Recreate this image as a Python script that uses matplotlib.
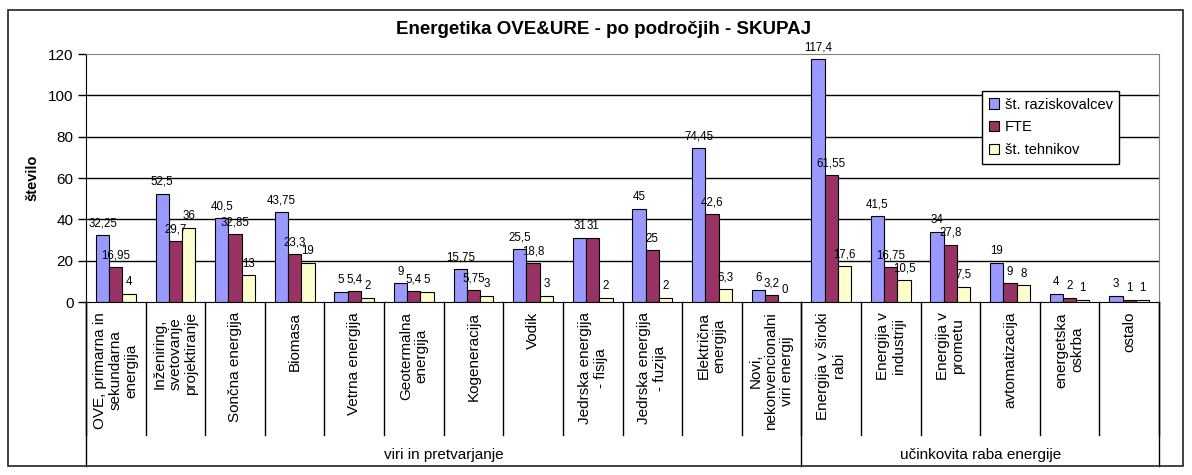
import matplotlib
matplotlib.use("Agg")
import matplotlib.pyplot as plt
import matplotlib.transforms as mtransforms
from matplotlib.patches import Rectangle, Patch
from matplotlib.lines import Line2D

plt.rcParams['font.family'] = ['Liberation Sans', 'DejaVu Sans']

categories = [
    "OVE, primarna in\nsekundarna\nenergija",
    "Inženiring,\nsvetovanje\nprojektiranje",
    "Sončna energija",
    "Biomasa",
    "Vetrna energija",
    "Geotermalna\nenergija",
    "Kogeneracija",
    "Vodik",
    "Jedrska energija\n- fisija",
    "Jedrska energija\n- fuzija",
    "Električna\nenergija",
    "Novi,\nnekonvencionalni\nviri energij",
    "Energija v široki\nrabi",
    "Energija v\nindustriji",
    "Energija v\nprometu",
    "avtomatizacija",
    "energetska\noskrba",
    "ostalo",
]
groups = ["viri in pretvarjanje", "učinkovita raba energije"]
group_sizes = [12, 6]

series_names = ["št. raziskovalcev", "FTE", "št. tehnikov"]
raziskovalci = [32.25, 52.5, 40.5, 43.75, 5, 9, 15.75, 25.5, 31, 45, 74.45, 6, 117.4, 41.5, 34, 19, 4, 3]
fte = [16.95, 29.7, 32.85, 23.3, 5.4, 5.4, 5.75, 18.8, 31, 25, 42.6, 3.2, 61.55, 16.75, 27.8, 9, 2, 1]
tehniki = [4, 36, 13, 19, 2, 5, 3, 3, 2, 2, 6.3, 0, 17.6, 10.5, 7.5, 8, 1, 1]
colors = ["#9999FF", "#993366", "#FFFFCC"]

W, H = 1192, 475
fig = plt.figure(figsize=(W / 100, H / 100), dpi=100)

# plot area in pixels
px_l, px_r, px_t, px_b = 86, 1159, 54, 302
ax = fig.add_axes([px_l / W, 1 - px_b / H, (px_r - px_l) / W, (px_b - px_t) / H])
axh = px_b - px_t

def ay(py):
    return (px_b - py) / axh

n = len(categories)
ax.set_xlim(-0.5, n - 0.5)
ax.set_ylim(0, 120)
ax.set_yticks(range(0, 121, 20))
ax.set_xticks([])
ax.tick_params(axis='y', labelsize=11, length=6, width=1, color='black', pad=3)

for y in range(20, 120, 20):
    ax.axhline(y, color='black', lw=1, zorder=1)

for s in ['top', 'right']:
    ax.spines[s].set_color('#808080')
ax.spines['left'].set_color('black')
ax.spines['bottom'].set_color('black')

bw = 1 / 4.5
data = [raziskovalci, fte, tehniki]
for k, (vals, c) in enumerate(zip(data, colors)):
    xs = [i + (k - 1) * bw for i in range(n)]
    ax.bar(xs, vals, width=bw, color=c, edgecolor='black', linewidth=0.8, zorder=2,
           label=series_names[k])
    for x, v in zip(xs, vals):
        lab = f"{v:g}".replace('.', ',')
        ax.annotate(lab, (x, v), xytext=(0, 4), textcoords='offset points',
                    ha='center', va='bottom', fontsize=8.3, clip_on=False, zorder=3)

trans = mtransforms.blended_transform_factory(ax.transData, ax.transAxes)
y_cat_bot = ay(435)
y_grp_bot = ay(466)

# category separators
for i in range(n + 1):
    x = i - 0.5
    ax.add_line(Line2D([x, x], [0, y_cat_bot], transform=trans, color='black', lw=1, clip_on=False))
# group separators
edges = [0]
for g in group_sizes:
    edges.append(edges[-1] + g)
for e in edges:
    x = e - 0.5
    ax.add_line(Line2D([x, x], [0, y_grp_bot], transform=trans, color='black', lw=1, clip_on=False))

for i, lab in enumerate(categories):
    ax.text(i, ay(312), lab, transform=trans, rotation=90, ha='center', va='top',
            multialignment='center', fontsize=11, linespacing=1.15, clip_on=False)

for g, (a, b) in zip(groups, zip(edges[:-1], edges[1:])):
    ax.text((a + b - 1) / 2, ay(455), g, transform=trans, ha='center', va='center',
            fontsize=11, clip_on=False)

ax.set_ylabel("število", fontsize=10.5, fontweight='bold', labelpad=6)

handles = [Patch(facecolor=c, edgecolor='black', linewidth=0.8) for c in colors]
leg = ax.legend(handles, series_names, loc='upper left',
                bbox_to_anchor=((982 - px_l) / (px_r - px_l), ay(91)),
                fontsize=10.5, fancybox=False, edgecolor='black', framealpha=1,
                handlelength=0.7, handleheight=0.7, handletextpad=0.4,
                borderpad=0.45, labelspacing=0.6, borderaxespad=0)
leg.get_frame().set_linewidth(1)

fig.text(0.5 * (373 + 835) / W, 1 - 30 / H, "Energetika OVE&URE - po področjih - SKUPAJ",
         ha='center', va='center', fontsize=13.5, fontweight='bold')

# outer border
fig.add_artist(Rectangle((8 / W, 1 - 466 / H), (1183 - 8) / W, (466 - 10) / H,
                         transform=fig.transFigure, fill=False, edgecolor='#222222', lw=1.2))

fig.savefig("out.png", dpi=100)
